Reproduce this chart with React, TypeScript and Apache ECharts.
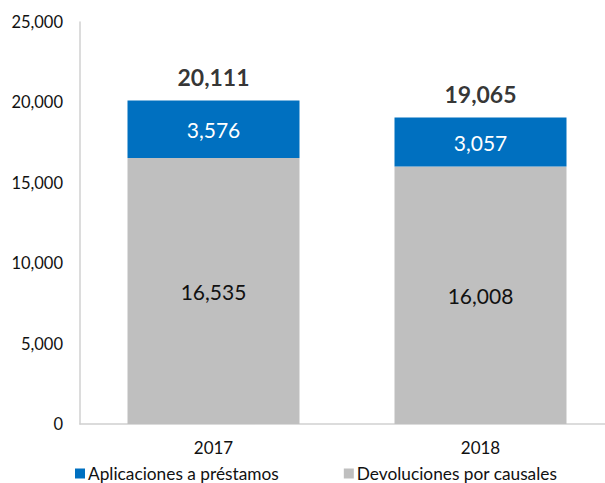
import React, { useEffect, useRef } from "react";
import * as echarts from "echarts";

const categories = ["2017", "2018"];
const devoluciones = [16535, 16008];
const aplicaciones = [3576, 3057];
const totals = [20111, 19065];
const yTicks = [0, 5000, 10000, 15000, 20000, 25000];

const FONT = "Lato, 'Open Sans', sans-serif";
const fmt = (v: number) => v.toLocaleString("en-US");

export default function App() {
  const ref = useRef<HTMLDivElement>(null);
  useEffect(() => {
    if (!ref.current) return;
    const chart = echarts.init(ref.current, null, { renderer: "svg" });
    chart.setOption({
      animation: false,
      textStyle: { fontFamily: FONT },
      grid: { left: 80, top: 22, bottom: 59, right: 0, containLabel: false },
      legend: {
        top: 465,
        left: 75,
        padding: 0,
        itemWidth: 10,
        itemHeight: 10,
        itemGap: 65,
        icon: "rect",
        textStyle: { fontFamily: FONT, fontSize: 17.3, color: "#111", padding: [0, 0, 0, -2] },
        data: ["Aplicaciones a préstamos", "Devoluciones por causales"],
      },
      xAxis: {
        type: "category",
        data: categories,
        axisLine: { lineStyle: { color: "#d0d0d0", width: 1.5 } },
        axisTick: { show: false },
        axisLabel: { fontFamily: FONT, fontSize: 17, color: "#111", margin: 15 },
      },
      yAxis: {
        type: "value",
        min: yTicks[0],
        max: yTicks[yTicks.length - 1],
        interval: 5000,
        axisLine: { show: true, lineStyle: { color: "#d0d0d0", width: 1.5 } },
        axisTick: { show: false },
        splitLine: { show: false },
        axisLabel: { fontFamily: FONT, fontSize: 16.5, color: "#111", margin: 17, formatter: (v: number) => fmt(v) },
      },
      series: [
        {
          name: "Devoluciones por causales",
          type: "bar",
          stack: "t",
          barWidth: 172,
          data: devoluciones,
          itemStyle: { color: "#BFBFBF" },
          label: { show: true, position: "inside", fontFamily: FONT, fontSize: 21, color: "#111", formatter: (p: any) => fmt(p.value) },
        },
        {
          name: "Aplicaciones a préstamos",
          type: "bar",
          stack: "t",
          barWidth: 172,
          data: aplicaciones,
          itemStyle: { color: "#0070C0" },
          label: { show: true, position: "inside", fontFamily: FONT, fontSize: 21, color: "#fff", formatter: (p: any) => fmt(p.value) },
        },
        {
          name: "Total",
          type: "scatter",
          data: totals,
          symbolSize: 0,
          silent: true,
          label: { show: true, position: "top", distance: 12, fontFamily: FONT, fontSize: 23, fontWeight: "bold", color: "#000", formatter: (p: any) => fmt(p.value) },
        },
      ],
    });
    return () => chart.dispose();
  }, []);
  return (
    <div style={{ width: 605, height: 483, position: "absolute", left: 0, top: 0, overflow: "hidden" }}>
      <div ref={ref} style={{ width: 614, height: 483 }} />
    </div>
  );
}
